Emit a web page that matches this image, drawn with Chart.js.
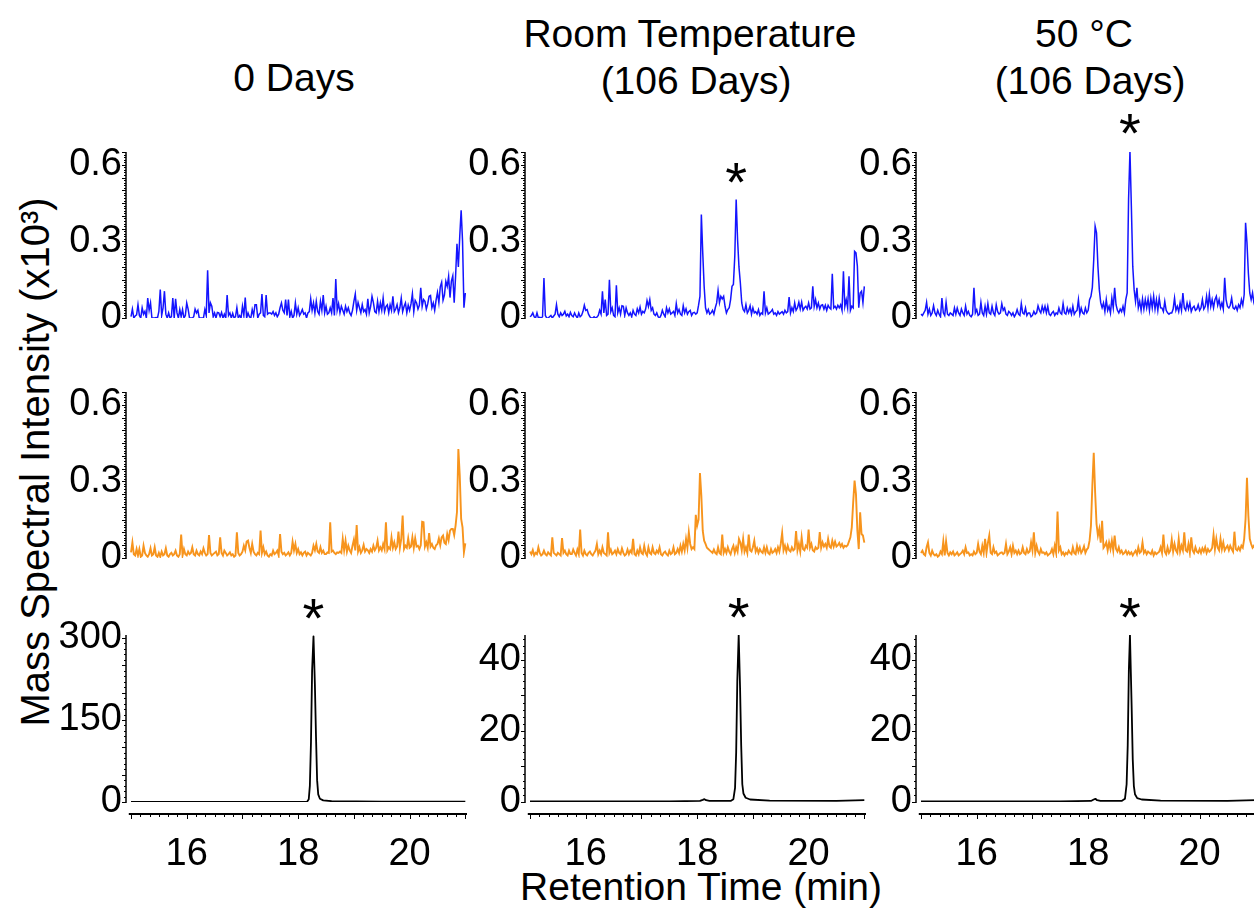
<!DOCTYPE html>
<html>
<head>
<meta charset="utf-8">
<script src="https://cdn.jsdelivr.net/npm/chart.js@4.4.0/dist/chart.umd.min.js"></script>
<style>
  body { margin: 0; background: #fff; width: 1254px; height: 911px; overflow: hidden; position: relative;
         font-family: "Liberation Sans", Arial, sans-serif; color: #000; }
  .txt { position: absolute; font-size: 39px; line-height: 1; white-space: nowrap; transform: translate(-50%, -50%); }
  .ylab { font-size: 40px; transform: translate(-50%, -50%) rotate(-90deg); }
</style>
</head>
<body>
<div class="txt" style="left:294px;top:77px">0 Days</div>
<div class="txt" style="left:690px;top:33px">Room Temperature</div>
<div class="txt" style="left:696px;top:80px">(106 Days)</div>
<div class="txt" style="left:1084px;top:33px">50 °C</div>
<div class="txt" style="left:1090px;top:80px">(106 Days)</div>
<div class="txt" style="left:701px;top:886px">Retention Time (min)</div>
<div class="txt ylab" style="left:35px;top:462px">Mass Spectral Intensity (x10³)</div>

<script>
// ── Data ─────────────────────────────────────────
// Noisy ion traces: counts sampled every 0.025 min from 15.0 to 21.0 min
const T0 = 15, DT = 0.025;

const blue0d = [
  5, 35, 0, 8, 12, 52, 10, 0, 40, 15,
  26, 0, 78, 30, 59, 0, 0, 0, 2, 0,
  26, 111, 10, 40, 105, 15, 0, 20, 0, 5,
  78, 0, 75, 20, 0, 33, 5, 33, 0, 10,
  59, 35, 0, 0, 0, 5, 35, 20, 30, 0,
  0, 0, 0, 33, 10, 187, 20, 59, 46, 5,
  20, 0, 22, 20, 5, 22, 0, 15, 0, 90,
  10, 20, 0, 18, 0, 5, 40, 0, 10, 0,
  46, 10, 80, 0, 20, 5, 0, 33, 10, 52,
  52, 0, 15, 20, 94, 10, 5, 90, 15, 20,
  20, 15, 25, 10, 20, 5, 15, 40, 59, 30,
  20, 72, 10, 72, 5, 26, 0, 10, 59, 15,
  40, 10, 20, 33, 15, 20, 0, 20, 25, 75,
  30, 59, 20, 65, 25, 15, 65, 30, 90, 20,
  46, 15, 20, 40, 20, 78, 10, 153, 30, 56,
  20, 46, 30, 15, 46, 25, 40, 20, 10, 30,
  65, 94, 30, 61, 40, 20, 52, 25, 33, 15,
  75, 20, 45, 85, 60, 25, 20, 65, 25, 59,
  30, 78, 25, 45, 52, 20, 52, 30, 85, 25,
  35, 52, 20, 40, 78, 25, 45, 59, 20, 50,
  30, 55, 95, 25, 69, 59, 35, 50, 118, 45,
  72, 65, 35, 55, 85, 88, 40, 59, 30, 70,
  100, 60, 122, 140, 70, 90, 144, 124, 163, 80,
  144, 165, 60, 163, 291, 200, 320, 422, 300, 40,
  98
];

const blueRT = [
  5, 10, 20, 5, 0, 20, 0, 3, 0, 5,
  157, 10, 0, 0, 5, 10, 0, 8, 15, 52,
  15, 5, 20, 10, 15, 26, 8, 15, 5, 22,
  10, 5, 20, 8, 0, 20, 5, 10, 25, 50,
  30, 33, 15, 5, 0, 0, 5, 0, 3, 10,
  30, 15, 105, 20, 72, 10, 15, 150, 25, 40,
  10, 5, 128, 20, 40, 15, 48, 46, 10, 40,
  20, 10, 20, 5, 30, 15, 10, 36, 20, 43,
  15, 26, 20, 35, 68, 45, 72, 30, 40, 15,
  10, 20, 5, 0, 10, 30, 15, 5, 40, 20,
  36, 15, 20, 26, 10, 56, 20, 33, 15, 10,
  48, 20, 36, 15, 25, 30, 10, 20, 22, 15,
  20, 50, 85, 405, 255, 124, 40, 20, 33, 15,
  20, 30, 15, 40, 59, 108, 60, 85, 75, 85,
  46, 20, 33, 40, 72, 124, 131, 242, 464, 307,
  200, 137, 59, 33, 25, 52, 20, 30, 48, 15,
  40, 20, 25, 15, 33, 10, 20, 15, 105, 20,
  40, 15, 20, 25, 33, 15, 20, 10, 25, 15,
  20, 25, 15, 30, 20, 25, 82, 20, 40, 25,
  59, 30, 40, 62, 35, 62, 30, 40, 46, 35,
  59, 35, 40, 124, 45, 72, 40, 59, 35, 50,
  52, 35, 50, 30, 50, 40, 35, 173, 40, 46,
  35, 50, 40, 52, 30, 183, 45, 72, 40, 163,
  30, 46, 40, 261, 255, 203, 40, 98, 105, 60,
  124
];

const blue50 = [
  15, 10, 20, 30, 61, 15, 35, 10, 20, 48,
  20, 10, 30, 15, 5, 78, 20, 10, 61, 15,
  10, 20, 15, 10, 39, 15, 39, 20, 10, 35,
  20, 10, 46, 15, 26, 10, 5, 15, 118, 20,
  33, 10, 15, 61, 20, 10, 46, 15, 56, 20,
  15, 46, 20, 10, 52, 25, 15, 20, 56, 30,
  39, 15, 10, 26, 20, 10, 20, 5, 15, 33,
  15, 10, 56, 20, 15, 39, 10, 20, 20, 5,
  10, 26, 15, 20, 48, 30, 20, 46, 25, 46,
  20, 46, 15, 10, 20, 26, 10, 20, 15, 39,
  20, 15, 56, 20, 15, 39, 20, 35, 15, 46,
  15, 25, 30, 72, 15, 39, 20, 15, 39, 20,
  30, 72, 85, 120, 229, 359, 333, 203, 111, 60,
  40, 59, 25, 72, 30, 46, 20, 78, 40, 118,
  52, 30, 20, 35, 25, 46, 20, 72, 98, 464,
  654, 438, 203, 111, 65, 118, 40, 65, 30, 75,
  35, 72, 40, 75, 30, 78, 40, 85, 35, 72,
  30, 78, 40, 39, 25, 65, 30, 20, 15, 20,
  20, 35, 78, 30, 46, 25, 59, 30, 98, 40,
  30, 59, 35, 59, 25, 40, 46, 30, 35, 52,
  30, 40, 72, 35, 45, 85, 40, 94, 45, 72,
  40, 72, 85, 50, 72, 40, 59, 35, 157, 72,
  45, 39, 50, 78, 40, 35, 46, 30, 52, 40,
  72, 50, 92, 373, 294, 176, 98, 72, 98, 59,
  40
];

const orange0d = [
  22, 61, 15, 10, 35, 10, 35, 5, 10, 48,
  20, 10, 5, 15, 38, 10, 15, 42, 10, 5,
  20, 5, 25, 10, 15, 38, 10, 5, 15, 20,
  10, 15, 29, 10, 5, 15, 92, 10, 35, 15,
  10, 25, 15, 20, 42, 15, 10, 29, 15, 10,
  25, 15, 38, 20, 10, 15, 90, 20, 10, 15,
  20, 25, 10, 15, 81, 20, 10, 29, 20, 10,
  15, 22, 10, 15, 5, 10, 101, 20, 10, 15,
  25, 48, 30, 64, 68, 40, 20, 55, 25, 15,
  10, 20, 15, 107, 20, 42, 15, 25, 10, 5,
  15, 10, 29, 15, 20, 29, 10, 94, 25, 15,
  20, 10, 15, 22, 10, 20, 64, 30, 55, 20,
  35, 15, 22, 10, 20, 25, 10, 20, 15, 10,
  20, 48, 30, 55, 25, 20, 42, 20, 29, 15,
  15, 22, 20, 140, 25, 29, 20, 15, 22, 20,
  25, 20, 75, 30, 68, 25, 48, 30, 20, 48,
  72, 30, 129, 25, 42, 20, 30, 51, 25, 35,
  30, 20, 35, 25, 48, 30, 40, 68, 30, 42,
  30, 55, 35, 140, 30, 42, 35, 81, 40, 61,
  35, 45, 103, 40, 75, 166, 35, 48, 40, 77,
  40, 45, 81, 40, 77, 45, 48, 35, 50, 142,
  140, 45, 61, 40, 98, 45, 55, 40, 35, 50,
  55, 77, 50, 81, 88, 60, 55, 94, 70, 107,
  114, 114, 90, 127, 180, 427, 323, 153, 120, 22,
  57
];

const orangeRT = [
  25, 15, 31, 10, 20, 15, 42, 20, 10, 15,
  29, 15, 10, 22, 15, 10, 81, 20, 15, 10,
  20, 15, 10, 78, 20, 29, 15, 10, 29, 15,
  15, 33, 20, 10, 33, 15, 111, 20, 10, 29,
  15, 10, 20, 25, 15, 10, 20, 29, 55, 15,
  29, 15, 42, 20, 15, 10, 101, 20, 33, 15,
  20, 29, 15, 35, 20, 15, 38, 20, 10, 15,
  33, 15, 29, 20, 75, 15, 10, 29, 15, 42,
  20, 15, 48, 20, 10, 42, 20, 15, 42, 20,
  15, 29, 20, 42, 15, 10, 20, 25, 15, 10,
  29, 15, 20, 42, 15, 20, 35, 20, 48, 25,
  55, 30, 75, 40, 101, 55, 35, 42, 35, 169,
  127, 150, 333, 244, 107, 68, 55, 40, 35, 30,
  25, 20, 33, 20, 15, 42, 20, 15, 92, 20,
  35, 20, 42, 25, 15, 35, 48, 20, 42, 25,
  75, 61, 30, 75, 25, 42, 20, 92, 30, 25,
  42, 68, 25, 38, 20, 35, 25, 20, 42, 20,
  42, 20, 15, 35, 20, 25, 35, 20, 42, 25,
  55, 98, 30, 48, 25, 48, 30, 25, 42, 30,
  35, 105, 30, 55, 25, 81, 35, 30, 48, 40,
  111, 40, 55, 30, 25, 42, 35, 40, 101, 40,
  61, 45, 55, 40, 75, 45, 40, 68, 45, 64,
  45, 50, 59, 45, 55, 40, 48, 45, 50, 65,
  81, 120, 218, 303, 250, 107, 35, 179, 94, 88,
  60
];

const orange50 = [
  20, 29, 15, 10, 42, 61, 20, 10, 29, 15,
  10, 15, 5, 10, 25, 15, 65, 10, 65, 20,
  10, 22, 15, 25, 10, 15, 22, 10, 15, 20,
  29, 15, 42, 20, 22, 10, 15, 10, 25, 15,
  20, 55, 25, 15, 48, 20, 75, 20, 59, 88,
  20, 15, 42, 20, 25, 10, 15, 20, 22, 15,
  20, 55, 15, 25, 42, 15, 48, 20, 29, 15,
  29, 15, 20, 42, 20, 15, 35, 20, 25, 61,
  30, 101, 20, 48, 25, 15, 35, 20, 22, 15,
  22, 10, 15, 20, 35, 15, 48, 20, 182, 30,
  42, 15, 22, 10, 20, 15, 29, 20, 15, 42,
  20, 15, 48, 25, 42, 20, 30, 46, 20, 33,
  40, 68, 127, 284, 412, 257, 133, 88, 114, 60,
  146, 40, 48, 61, 30, 61, 35, 68, 30, 88,
  35, 25, 42, 20, 29, 15, 20, 29, 15, 25,
  15, 22, 10, 20, 29, 15, 42, 20, 25, 61,
  20, 29, 15, 25, 20, 15, 29, 10, 22, 15,
  20, 25, 42, 20, 92, 25, 15, 42, 20, 30,
  72, 25, 55, 30, 20, 75, 25, 48, 30, 101,
  30, 25, 55, 20, 81, 30, 20, 42, 25, 20,
  35, 20, 38, 25, 42, 20, 35, 25, 30, 40,
  90, 35, 75, 40, 30, 75, 35, 61, 30, 40,
  48, 30, 48, 35, 25, 103, 35, 30, 42, 30,
  48, 40, 75, 153, 314, 166, 75, 55, 40, 48,
  35
];

// Reference compound traces (x10³), time in min
const ref0dTime = [15, 18.0, 18.16, 18.19, 18.21, 18.23, 18.25, 18.275, 18.30, 18.32, 18.34, 18.36, 18.39, 18.45, 18.6, 19.5, 21];
const ref0dVal  = [0, 0, 0.5, 5, 30, 110, 240, 303, 215, 120, 40, 14, 6, 3, 1.5, 0.8, 0.5];

const refRTTime = [15, 17.5, 18.05, 18.10, 18.13, 18.16, 18.22, 18.6, 18.65, 18.68, 18.70, 18.72, 18.745, 18.77, 18.79, 18.81, 18.83, 18.87, 18.95, 19.3, 20.5, 21];
const refRTVal  = [0.2, 0.2, 0.3, 0.6, 0.8, 0.5, 0.3, 0.3, 0.8, 4, 14, 34, 47, 32, 16, 5, 2.4, 1.2, 0.7, 0.4, 0.3, 0.5];

const ref50Time = [15, 17.5, 18.05, 18.10, 18.13, 18.16, 18.22, 18.6, 18.66, 18.69, 18.71, 18.73, 18.75, 18.78, 18.80, 18.82, 18.84, 18.88, 18.96, 19.3, 20.5, 21];
const ref50Val  = [0.2, 0.2, 0.3, 0.7, 0.9, 0.5, 0.3, 0.3, 0.9, 5, 16, 37, 47, 27, 12, 4.5, 2.2, 1.1, 0.7, 0.4, 0.3, 0.5];

const xTicks = [16, 18, 20];
const yTicksSmall = [0, 0.3, 0.6];
const yTicksRef0d = [0, 150, 300];
const yTicksRef = [0, 20, 40];

// ── Layout ───────────────────────────────────────
const X_MIN = 14.91, X_MAX = 21.03;
const COL_LEFT = [126, 525, 916];
const ROW_TOP = [152, 392, 635];
const PLOT_W = 341, PLOT_H = [166, 166, 167];
const AXIS_W = 120, PAD_T = 60;

const BLUE = '#1414ff', ORANGE = '#f7941d', BLACK = '#000';

Chart.defaults.font.family = '"Liberation Sans", Arial, sans-serif';
Chart.defaults.color = '#000';

const fromCounts = arr => arr.map((c, i) => ({ x: T0 + i * DT, y: c / 1000 }));
const fromPairs = (ts, vs) => ts.map((t, i) => ({ x: t, y: vs[i] }));

// axes drawn detached from the traces, with dense minor ticks
const detachedAxes = {
  id: 'detachedAxes',
  afterDraw(chart, args, o) {
    const { ctx, chartArea: a, scales: { x, y } } = chart;
    ctx.save();
    ctx.strokeStyle = '#000';
    ctx.lineWidth = 1.5;
    ctx.beginPath();
    ctx.moveTo(a.left, y.getPixelForValue(0) + 1);
    ctx.lineTo(a.left, a.top);
    ctx.stroke();

    ctx.lineWidth = 1;
    ctx.beginPath();
    const n = Math.floor(y.max / o.yMinor + 1e-6);
    for (let k = 0; k <= n; k++) {
      const py = Math.round(y.getPixelForValue(k * o.yMinor)) + 0.5;
      const len = k % o.yMajorEvery === 0 ? 4 : 2;
      ctx.moveTo(a.left - len, py);
      ctx.lineTo(a.left, py);
    }
    ctx.stroke();

    if (o.xAxis) {
      const ay = a.bottom + 12;
      ctx.lineWidth = 1.8;
      ctx.beginPath();
      ctx.moveTo(x.getPixelForValue(14.96), ay);
      ctx.lineTo(a.right, ay);
      ctx.stroke();
      ctx.lineWidth = 1;
      ctx.beginPath();
      for (let k = 0; k <= 36; k++) {
        const px = Math.round(x.getPixelForValue(15 + k / 6)) + 0.5;
        const len = k % 6 === 0 ? 5 : 3;
        ctx.moveTo(px, ay);
        ctx.lineTo(px, ay + len);
      }
      ctx.stroke();
    }
    ctx.restore();
  }
};

// asterisk above the marked peaks
const peakStars = {
  id: 'peakStars',
  afterDatasetsDraw(chart, args, o) {
    if (!o.at || !o.at.length) return;
    const { ctx, scales: { x, y } } = chart;
    const pts = chart.data.datasets[0].data;
    ctx.save();
    ctx.fillStyle = '#000';
    ctx.font = '56px "Liberation Sans", Arial, sans-serif';
    ctx.textAlign = 'center';
    ctx.textBaseline = 'alphabetic';
    const m = ctx.measureText('*');
    o.at.forEach(t => {
      let best = null;
      pts.forEach(p => {
        if (Math.abs(p.x - t) <= 0.06 && (!best || p.y > best.y)) best = p;
      });
      const cx = x.getPixelForValue(best.x);
      const cy = y.getPixelForValue(best.y) - 27;
      ctx.fillText('*', cx, cy + (m.actualBoundingBoxAscent - m.actualBoundingBoxDescent) / 2);
    });
    ctx.restore();
  }
};

function makePanel(col, row, cfg) {
  const isBottom = row === 2;
  const padB = isBottom ? 0 : 30;
  const xAxisH = isBottom ? 90 : 0;
  const w = AXIS_W + PLOT_W + 12;
  const h = PAD_T + PLOT_H[row] + padB + xAxisH;
  const canvas = document.createElement('canvas');
  canvas.width = w;
  canvas.height = h;
  canvas.style.cssText = `position:absolute;left:${COL_LEFT[col] - AXIS_W}px;top:${ROW_TOP[row] - PAD_T}px;width:${w}px;height:${h}px`;
  document.body.appendChild(canvas);

  new Chart(canvas, {
    type: 'line',
    data: {
      datasets: [{
        data: cfg.points,
        borderColor: cfg.color,
        borderWidth: cfg.lw,
        borderJoinStyle: cfg.join || 'miter',
        pointRadius: 0,
        tension: 0,
        fill: false,
      }]
    },
    options: {
      responsive: false,
      animation: false,
      devicePixelRatio: 1,
      layout: { padding: { top: PAD_T, bottom: padB, left: 0, right: 12 } },
      plugins: {
        legend: { display: false },
        tooltip: { enabled: false },
        detachedAxes: { yMinor: cfg.yMinor, yMajorEvery: 5, xAxis: isBottom },
        peakStars: { at: cfg.stars || [] },
      },
      scales: {
        x: {
          type: 'linear', min: X_MIN, max: X_MAX, display: isBottom,
          grid: { display: false, drawTicks: false }, border: { display: false },
          afterBuildTicks: s => { s.ticks = xTicks.map(v => ({ value: v })); },
          afterFit: s => { s.height = xAxisH; },
          ticks: { padding: 30, font: { size: 38 }, maxRotation: 0, autoSkip: false },
        },
        y: {
          min: 0, max: cfg.yMax,
          grid: { display: false, drawTicks: false }, border: { display: false },
          afterBuildTicks: s => { s.ticks = cfg.yTicks.map(v => ({ value: v })); },
          afterFit: s => { s.width = AXIS_W; },
          ticks: { padding: 4, font: { size: 38 }, callback: v => String(v) },
        }
      }
    },
    plugins: [detachedAxes, peakStars]
  });
}

// ── Build grid ───────────────────────────────────
const small = { yMax: 0.65, yTicks: yTicksSmall, yMinor: 0.01 };

makePanel(0, 0, { ...small, points: fromCounts(blue0d), color: BLUE, lw: 1.5 });
makePanel(1, 0, { ...small, points: fromCounts(blueRT), color: BLUE, lw: 1.5, stars: [18.70] });
makePanel(2, 0, { ...small, points: fromCounts(blue50), color: BLUE, lw: 1.5, stars: [18.75] });

makePanel(0, 1, { ...small, points: fromCounts(orange0d), color: ORANGE, lw: 1.9 });
makePanel(1, 1, { ...small, points: fromCounts(orangeRT), color: ORANGE, lw: 1.9 });
makePanel(2, 1, { ...small, points: fromCounts(orange50), color: ORANGE, lw: 1.9 });

makePanel(0, 2, { points: fromPairs(ref0dTime, ref0dVal), color: BLACK, lw: 1.8, join: 'round', yMax: 305.5, yTicks: yTicksRef0d, yMinor: 10, stars: [18.275] });
makePanel(1, 2, { points: fromPairs(refRTTime, refRTVal), color: BLACK, lw: 1.8, join: 'round', yMax: 47, yTicks: yTicksRef, yMinor: 2, stars: [18.745] });
makePanel(2, 2, { points: fromPairs(ref50Time, ref50Val), color: BLACK, lw: 1.8, join: 'round', yMax: 47, yTicks: yTicksRef, yMinor: 2, stars: [18.75] });
</script>
</body>
</html>
